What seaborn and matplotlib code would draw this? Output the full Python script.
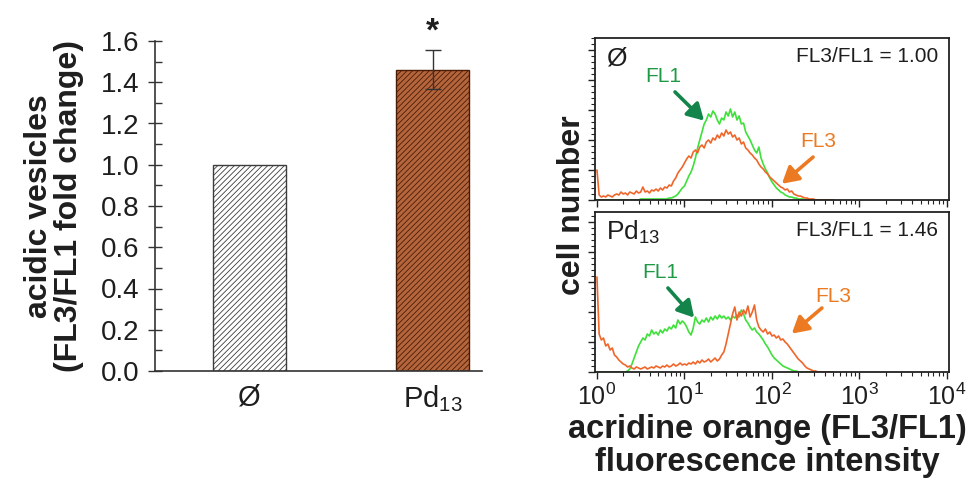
import numpy as np
import pandas as pd
import matplotlib
matplotlib.use("Agg")
import matplotlib.pyplot as plt
from matplotlib.ticker import MultipleLocator, LogLocator, NullFormatter, FixedLocator
import seaborn as sns

# ---------------- data ----------------
bar_labels = ["Ø", r"$\mathregular{Pd_{13}}$"]
bar_values = [1.00, 1.46]
bar_err = [0.0, 0.095]

# histogram channels (log10 of fluorescence intensity)
log_channel = np.arange(109) * 0.025

ctrl_fl3 = [30, 5, 3, 4, 3, 5, 4, 3, 5, 6,
            5, 8, 6, 7, 5, 8, 7, 6, 9, 7,
            8, 13, 8, 9, 7, 10, 9, 11, 9, 12,
            10, 13, 12, 15, 14, 19, 22, 27, 30, 33,
            37, 41, 44, 42, 48, 50, 47, 53, 55, 52,
            58, 60, 57, 62, 60, 65, 62, 67, 64, 70,
            66, 68, 63, 65, 60, 62, 56, 58, 52, 50,
            47, 45, 42, 40, 36, 33, 31, 28, 26, 23,
            21, 19, 17, 15, 13, 12, 10, 11, 8, 9,
            6, 5, 4, 4, 3, 2, 2, 1, 1, 1,
            0, 0, 0, 0, 0, 0, 0, 0, 0]
ctrl_fl1 = [0, 0, 0, 0, 0, 0, 0, 0, 0, 0,
            0, 0, 0, 0, 0, 0, 0, 0, 0, 0,
            1, 1, 1, 1, 1, 1, 1, 1, 1, 1,
            1, 1, 1, 2, 2, 3, 4, 6, 9, 12,
            14, 19, 24, 28, 34, 42, 52, 60, 68, 76,
            80, 86, 83, 89, 86, 80, 76, 82, 80, 88,
            84, 91, 83, 88, 80, 84, 76, 77, 68, 64,
            60, 55, 50, 47, 53, 42, 36, 31, 27, 22,
            18, 15, 12, 10, 8, 7, 5, 4, 3, 3,
            2, 2, 1, 1, 1, 0, 0, 0, 0, 0,
            0, 0, 0, 0, 0, 0, 0, 0, 0]
pd_fl3 = [95, 38, 32, 34, 26, 28, 22, 24, 17, 15,
          12, 10, 8, 7, 5, 6, 4, 3, 5, 4,
          3, 4, 5, 3, 4, 5, 4, 6, 5, 4,
          6, 5, 7, 5, 6, 8, 6, 7, 9, 7,
          8, 7, 9, 8, 10, 8, 11, 9, 12, 10,
          11, 13, 10, 12, 14, 11, 13, 17, 20, 28,
          38, 48, 58, 65, 52, 60, 56, 62, 58, 66,
          55, 60, 67, 52, 45, 42, 40, 43, 38, 40,
          36, 37, 34, 36, 32, 33, 30, 28, 25, 22,
          19, 16, 13, 11, 9, 6, 4, 3, 2, 1,
          1, 0, 0, 0, 0, 0, 0, 0, 0]
pd_fl1 = [0, 0, 0, 0, 0, 0, 0, 0, 0, 0,
          0, 0, 0, 0, 1, 3, 8, 14, 20, 26,
          30, 34, 32, 38, 36, 42, 38, 40, 37, 42,
          39, 43, 41, 45, 43, 47, 44, 52, 48, 51,
          49, 45, 40, 37, 44, 55, 50, 48, 52, 50,
          54, 50, 55, 52, 56, 53, 57, 54, 56, 53,
          55, 52, 56, 54, 57, 55, 62, 58, 52, 49,
          45, 42, 44, 40, 38, 35, 32, 28, 25, 21,
          17, 14, 12, 10, 8, 6, 5, 4, 3, 2,
          1, 1, 0, 0, 0, 0, 0, 0, 0, 0,
          0, 0, 0, 0, 0, 0, 0, 0, 0]

decade_labels = [r"$\mathregular{10^{0}}$", r"$\mathregular{10^{1}}$", r"$\mathregular{10^{2}}$",
                 r"$\mathregular{10^{3}}$", r"$\mathregular{10^{4}}$"]
ratio_labels = ["FL3/FL1 = 1.00", "FL3/FL1 = 1.46"]
panel_labels = ["Ø", r"$\mathregular{Pd_{13}}$"]

# ---------------- style ----------------
sns.set_theme(style="white")
plt.rcParams["font.family"] = ["Liberation Sans", "DejaVu Sans"]
plt.rcParams["mathtext.fontset"] = "custom"
plt.rcParams["mathtext.rm"] = "Liberation Sans"
plt.rcParams["mathtext.it"] = "Liberation Sans:italic"
plt.rcParams["mathtext.bf"] = "Liberation Sans:bold"
plt.rcParams["hatch.linewidth"] = 0.6

GREEN_LINE = "#3ee03a"
ORANGE_LINE = "#f0662a"
GREEN_TXT = "#1e9a45"
GREEN_ARR = "#13854a"
ORANGE_TXT = "#ec7a22"
TXT = "#1e1e1e"

fig = plt.figure(figsize=(9.71, 4.80), dpi=100)

# ---------------- bar chart ----------------
axb = fig.add_axes([155 / 971, 1 - 371 / 480, (482 - 155) / 971, 330 / 480])
df = pd.DataFrame({"group": ["ctrl", "pd"], "value": bar_values})
sns.barplot(data=df, x="group", y="value", ax=axb, width=0.4, errorbar=None,
            palette=["#ffffff", "#c95e28"], hue="group", legend=False)
edge_cols = ["#3c3c3c", "#4a1c06"]
for p, ec in zip(axb.patches, edge_cols):
    p.set_hatch("//////")
    p.set_edgecolor(ec)
    p.set_linewidth(1.0)
axb.errorbar([1], [bar_values[1]], yerr=[bar_err[1]], fmt="none", ecolor="#333333",
             elinewidth=1.0, capsize=6, capthick=1.0)
axb.text(1, 1.645, "*", ha="center", va="center", fontsize=24, fontweight="bold",
         color=TXT, clip_on=False)
axb.set_xlim(-0.516, 1.27)
axb.set_ylim(0, 1.6)
axb.yaxis.set_major_locator(MultipleLocator(0.2))
axb.yaxis.set_minor_locator(MultipleLocator(0.1))
axb.yaxis.set_major_formatter(matplotlib.ticker.FormatStrFormatter("%.1f"))
axb.tick_params(axis="y", which="major", direction="inout", length=10, width=1.0,
                labelsize=20, color="#333333", labelcolor=TXT, left=True, pad=6)
axb.tick_params(axis="y", which="minor", direction="in", length=5, width=1.0,
                color="#333333", left=True)
axb.tick_params(axis="x", length=0, labelsize=21, pad=9, labelcolor=TXT)
axb.set_xticks([0, 1])
axb.set_xticklabels(bar_labels)
axb.set_xlabel("")
axb.set_ylabel("acidic vesicles\n(FL3/FL1 fold change)", fontsize=23, fontweight="bold",
               labelpad=12, linespacing=1.0, color=TXT)
sns.despine(ax=axb)
for s in ["left", "bottom"]:
    axb.spines[s].set_color("#333333")
    axb.spines[s].set_linewidth(1.2)

# ---------------- histograms ----------------
x_int = 10 ** log_channel
ax_top = fig.add_axes([595 / 971, 1 - 200 / 480, 354 / 971, 162 / 480])
ax_bot = fig.add_axes([595 / 971, 1 - 372 / 480, 354 / 971, 160 / 480])

panels = [
    (ax_top, ctrl_fl1, ctrl_fl3, 162, panel_labels[0], ratio_labels[0],
     dict(fl1_txt=(0.192, 0.76), fl1_tail=(0.226, 0.667), fl1_head=(0.308, 0.49),
          fl3_txt=(0.632, 0.36), fl3_tail=(0.616, 0.265), fl3_head=(0.528, 0.1))),
    (ax_bot, pd_fl1, pd_fl3, 160, panel_labels[1], ratio_labels[1],
     dict(fl1_txt=(0.184, 0.625), fl1_tail=(0.206, 0.525), fl1_head=(0.28, 0.34),
          fl3_txt=(0.672, 0.47), fl3_tail=(0.641, 0.40), fl3_head=(0.556, 0.24))),
]
for ax, fl1, fl3, ymax, plab, rlab, pos in panels:
    sns.lineplot(x=x_int, y=fl1, ax=ax, color=GREEN_LINE, linewidth=1.2, estimator=None)
    sns.lineplot(x=x_int, y=fl3, ax=ax, color=ORANGE_LINE, linewidth=1.2, estimator=None)
    ax.set_xscale("log")
    ax.set_xlim(0.95, 10540)
    ax.set_ylim(0, ymax)
    ax.xaxis.set_major_locator(FixedLocator([1, 10, 100, 1000, 10000]))
    ax.xaxis.set_minor_locator(LogLocator(base=10, subs=np.arange(2, 10), numticks=20))
    ax.xaxis.set_minor_formatter(NullFormatter())
    ax.yaxis.set_major_locator(MultipleLocator(30))
    ax.yaxis.set_minor_locator(MultipleLocator(6))
    ax.tick_params(axis="both", which="major", direction="out", length=5, width=1.0,
                   color="#222222", bottom=True, left=True)
    ax.tick_params(axis="both", which="minor", direction="out", length=3, width=0.8,
                   color="#222222", bottom=True, left=True)
    ax.set_yticklabels([])
    for s in ax.spines.values():
        s.set_visible(True)
        s.set_color("#222222")
        s.set_linewidth(1.3)
    ax.set_xlabel("")
    ax.set_ylabel("")
    ax.text(0.03, 0.875, plab, transform=ax.transAxes, ha="left", va="center",
            fontsize=19, color=TXT)
    ax.text(0.969, 0.885, rlab, transform=ax.transAxes, ha="right", va="center",
            fontsize=15, color=TXT)
    ax.text(*pos["fl1_txt"], "FL1", transform=ax.transAxes, ha="center", va="center",
            fontsize=15, color=GREEN_TXT)
    ax.annotate("", xy=pos["fl1_head"], xytext=pos["fl1_tail"], xycoords="axes fraction",
                textcoords="axes fraction",
                arrowprops=dict(arrowstyle="-|>,head_length=0.7,head_width=0.4",
                                lw=2.6, color=GREEN_ARR, shrinkA=0, shrinkB=0,
                                mutation_scale=14))
    ax.text(*pos["fl3_txt"], "FL3", transform=ax.transAxes, ha="center", va="center",
            fontsize=15, color=ORANGE_TXT)
    ax.annotate("", xy=pos["fl3_head"], xytext=pos["fl3_tail"], xycoords="axes fraction",
                textcoords="axes fraction",
                arrowprops=dict(arrowstyle="-|>,head_length=0.7,head_width=0.4",
                                lw=2.6, color=ORANGE_TXT, shrinkA=0, shrinkB=0,
                                mutation_scale=14))

ax_top.set_xticklabels([])
ax_bot.set_xticklabels(decade_labels)
ax_bot.tick_params(axis="x", which="major", labelsize=18, pad=3, labelcolor=TXT)

fig.text(572 / 971, 1 - 205 / 480, "cell number", rotation=90, ha="center", va="center",
         fontsize=23, fontweight="bold", color=TXT)
fig.text(767 / 971, 1 - 446 / 480, "acridine orange (FL3/FL1)\nfluorescence intensity",
         ha="center", va="center", fontsize=23.5, fontweight="bold", color=TXT,
         linespacing=1.05)

fig.savefig("out.png", dpi=100)
